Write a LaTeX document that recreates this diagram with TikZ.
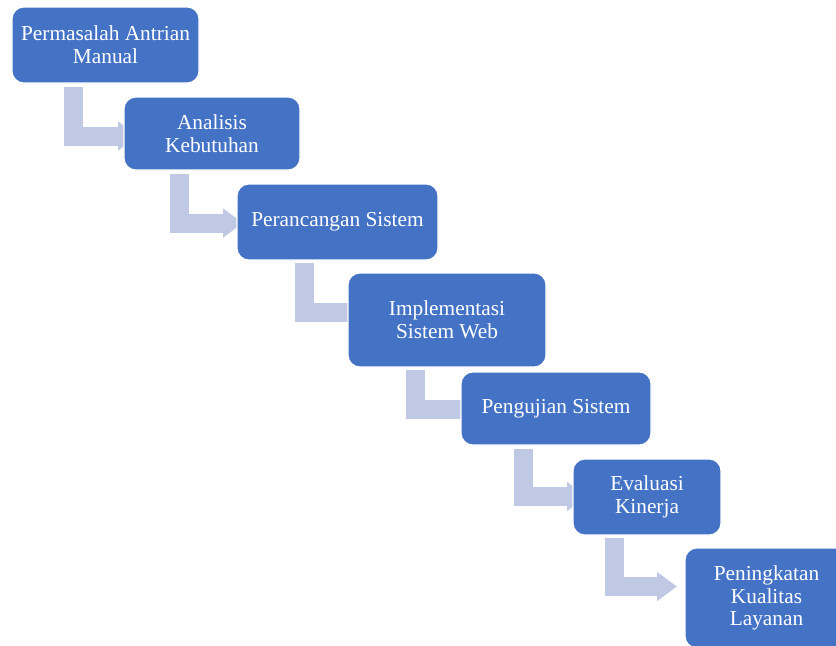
\documentclass[tikz,border=0pt]{standalone}
\usepackage{fontspec}
\setmainfont{Liberation Serif}
\usetikzlibrary{arrows.meta}

\definecolor{stepblue}{RGB}{68,114,196}
\definecolor{flowgray}{RGB}{192,201,228}

\begin{document}
\begin{tikzpicture}[
  x=0.75pt,y=-0.75pt,
  stage/.style={draw=white,line width=0.8pt,rounded corners=9pt,fill=stepblue,
    text=white,align=center,inner sep=0pt,font=\fontsize{16}{17}\selectfont},
  flow/.style={draw=flowgray,line width=14.25pt,line join=miter,
    -{Triangle[length=15pt,width=21pt]}}
]
  \useasboundingbox (0,0) rectangle (836,646);

  % the bent arrows go first, the boxes hide their tips
  \coordinate (a1) at (73.5,87);    \coordinate (t1) at (138,136);
  \coordinate (a2) at (179.5,174);  \coordinate (t2) at (243,223);
  \coordinate (a3) at (304.5,263);  \coordinate (t3) at (372,312.5);
  \coordinate (a4) at (415,370);    \coordinate (t4) at (485,409.5);
  \coordinate (a5) at (523.5,449);  \coordinate (t5) at (587,496.5);
  \coordinate (a6) at (614.5,538);  \coordinate (t6) at (677,586.5);
  \foreach \i in {1,...,6}
    \draw[flow] (a\i) |- (t\i);

  \node[stage,minimum width=140.25pt,minimum height=57pt] (problem) at (105.5,45)
    {Permasalah Antrian\\Manual};
  \node[stage,minimum width=132pt,minimum height=54.75pt] (analysis) at (212,133.5)
    {Analisis\\Kebutuhan};
  \node[stage,minimum width=150.75pt,minimum height=57pt] (design) at (337.5,222)
    {Perancangan Sistem};
  \node[stage,minimum width=148.5pt,minimum height=70.5pt] (build) at (447,320)
    {Implementasi\\Sistem Web};
  \node[stage,minimum width=142.5pt,minimum height=54.75pt] (testing) at (556,408.5)
    {Pengujian Sistem};
  \node[stage,minimum width=111pt,minimum height=57pt] (review) at (647,497)
    {Evaluasi\\Kinerja};
  \node[stage,minimum width=122.25pt,minimum height=75pt] (quality) at (766.5,598)
    {Peningkatan\\Kualitas\\Layanan};
\end{tikzpicture}
\end{document}
